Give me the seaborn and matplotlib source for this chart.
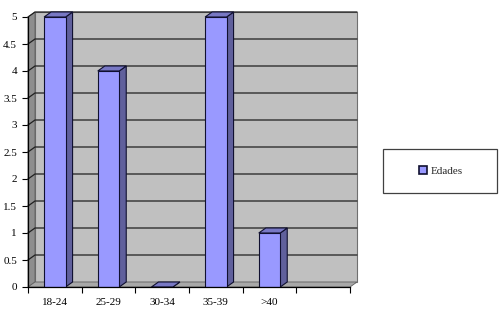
import matplotlib
matplotlib.use("Agg")
import matplotlib.pyplot as plt
import seaborn as sns
import pandas as pd
from matplotlib.patches import Polygon, Rectangle
from matplotlib.lines import Line2D
from matplotlib.transforms import IdentityTransform

# ---- data ----
categories = ["18-24", "25-29", "30-34", "35-39", ">40"]
values = [5, 4, 0, 5, 1]
series_name = "Edades"
y_ticks = [0, 0.5, 1, 1.5, 2, 2.5, 3, 3.5, 4, 4.5, 5]
y_tick_labels = ["0", "0.5", "1", "1.5", "2", "2.5", "3", "3.5", "4", "4.5", "5"]
n_slots = 6

# ---- style ----
FRONT = "#9999FF"
SIDE = "#60609C"
TOP = "#7878C4"
EDGE = "#101030"
WALL = "#C0C0C0"
SIDEWALL = "#8E8E8E"
FLOOR = "#A8A8A8"
DX, DY = 7, 5  # depth offset in pixels

sns.set_theme(style="white")
plt.rcParams["font.family"] = ["Liberation Serif", "DejaVu Serif"]

fig = plt.figure(figsize=(5, 3.12), dpi=100)
fig.patch.set_facecolor("white")
ax = fig.add_axes([28 / 500, 25 / 312, 322 / 500, 270 / 312])

df = pd.DataFrame({"Edad": categories, "Valor": values})
sns.barplot(data=df, x="Edad", y="Valor", order=categories, color=FRONT,
            saturation=1, width=0.4, edgecolor=EDGE, linewidth=0.8,
            ax=ax, zorder=4)
bars = list(ax.patches)

xmin, xmax = -0.5, n_slots - 0.5
ax.set_xlim(xmin, xmax)
ax.set_ylim(0, 5)
ax.patch.set_visible(False)

def P(x, y, off=False):
    px, py = ax.transData.transform((x, y))
    if off:
        return (px + DX, py + DY)
    return (px, py)

def add_poly(pts, fc, ec, lw=0.8, z=1):
    p = Polygon(pts, closed=True, facecolor=fc, edgecolor=ec, linewidth=lw,
                transform=IdentityTransform(), clip_on=False, zorder=z)
    ax.add_artist(p)

# back wall
add_poly([P(xmin, 0, True), P(xmax, 0, True), P(xmax, 5, True), P(xmin, 5, True)],
         WALL, "#707070", 0.8, 0.5)
# side wall
add_poly([P(xmin, 0), P(xmin, 5), P(xmin, 5, True), P(xmin, 0, True)],
         SIDEWALL, "#606060", 0.6, 0.6)
# floor
add_poly([P(xmin, 0), P(xmax, 0), P(xmax, 0, True), P(xmin, 0, True)],
         FLOOR, "#606060", 0.6, 0.7)

# gridlines on walls
for yv in y_ticks[1:]:
    a, b, c = P(xmin, yv), P(xmin, yv, True), P(xmax, yv, True)
    ln = Line2D([a[0], b[0], c[0]], [a[1], b[1], c[1]], color="#202020",
                lw=0.9, transform=IdentityTransform(), clip_on=False, zorder=0.8)
    ax.add_artist(ln)

# 3D faces of bars
for bar in bars:
    x0, w, h = bar.get_x(), bar.get_width(), bar.get_height()
    x1 = x0 + w
    add_poly([P(x1, 0), P(x1, h), P(x1, h, True), P(x1, 0, True)], SIDE, EDGE, 0.8, 3)
    add_poly([P(x0, h), P(x1, h), P(x1, h, True), P(x0, h, True)], TOP, EDGE, 0.8, 3.5)

ax.set_xlim(xmin, xmax)
ax.set_ylim(0, 5)

# axes lines and ticks
for s in ["top", "right"]:
    ax.spines[s].set_visible(False)
for s in ["left", "bottom"]:
    ax.spines[s].set_visible(True)
    ax.spines[s].set_color("black")
    ax.spines[s].set_linewidth(0.9)
    ax.spines[s].set_zorder(5)

ax.set_yticks(y_ticks)
ax.set_yticklabels(y_tick_labels)
ax.set_xticks(range(len(categories)))
ax.set_xticklabels(categories)
ax.set_xticks([i - 0.5 for i in range(n_slots + 1)], minor=True)
ax.tick_params(axis="y", which="major", left=True, length=4, width=0.8,
               color="black", direction="out", pad=4, labelsize=8, labelcolor="black")
ax.tick_params(axis="x", which="major", bottom=True, length=0, pad=8,
               labelsize=8, labelcolor="black")
ax.tick_params(axis="x", which="minor", bottom=True, length=4, width=0.8,
               color="black", direction="out")
ax.set_xlabel("")
ax.set_ylabel("")
ax.grid(False)

# legend
frame = Rectangle((383 / 500, (312 - 193) / 312), 114 / 500, 44 / 312,
                  transform=fig.transFigure, fill=False, edgecolor="#404040",
                  linewidth=0.9)
fig.add_artist(frame)
handle = Rectangle((0, 0), 1, 1, facecolor=FRONT, edgecolor=EDGE, linewidth=1.2)
fig.legend(handles=[handle], labels=[series_name], loc="center",
           bbox_to_anchor=(441 / 500, (312 - 171) / 312), frameon=False,
           handlelength=0.75, handleheight=0.75, handletextpad=0.3,
           fontsize=8, borderpad=0)

fig.savefig("out.png", dpi=100, facecolor="white")
